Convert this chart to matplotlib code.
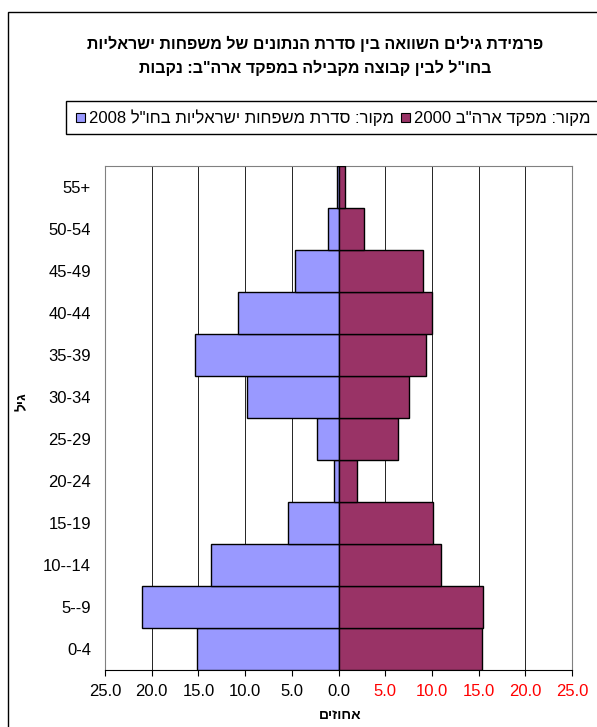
import re
import matplotlib
matplotlib.use('Agg')
import matplotlib.pyplot as plt
from matplotlib.patches import Rectangle

plt.rcParams['font.family'] = ['Liberation Sans', 'DejaVu Sans']

# data (percent)
age_groups = ['0-4', '5--9', '10--14', '15-19', '20-24', '25-29', '30-34',
              '35-39', '40-44', '45-49', '50-54', '55+']
israeli_abroad_2008 = [15.1, 21.0, 13.7, 5.4, 0.5, 2.3, 9.8, 15.4, 10.8, 4.7, 1.1, 0.2]
us_census_2000 = [15.4, 15.5, 11.0, 10.1, 2.0, 6.4, 7.6, 9.4, 10.0, 9.0, 2.7, 0.7]
x_ticks = [-25, -20, -15, -10, -5, 0, 5, 10, 15, 20, 25]

title_1 = 'פרמידת גילים השוואה בין סדרת הנתונים של משפחות ישראליות'
title_2 = 'בחו"ל לבין קבוצה מקבילה במפקד ארה"ב: נקבות'
label_2008 = 'מקור: סדרת משפחות ישראליות בחו"ל 2008'
label_2000 = 'מקור: מפקד ארה"ב 2000'
x_title = 'אחוזים'
y_title = 'גיל'

BLUE = '#9999FF'
MAROON = '#993366'
W, H = 597, 727


def vis(s):
    '''hebrew -> visual order (numbers stay left to right)'''
    parts = re.split(r'(\d+(?:\.\d+)?)', s)
    out = []
    for p in reversed(parts):
        if re.fullmatch(r'\d+(?:\.\d+)?', p):
            out.append(p)
        else:
            out.append(p[::-1])
    return ''.join(out)


def fx(px):
    return px / W


def fy(py):
    return 1 - py / H


fig = plt.figure(figsize=(W / 100, H / 100), dpi=100)
ax = fig.add_axes([fx(105), fy(670), fx(572) - fx(105), fy(166) - fy(670)])

y = list(range(len(age_groups)))
ax.barh(y, [-v for v in israeli_abroad_2008], height=1.0, color=BLUE,
        edgecolor='black', linewidth=1.0, zorder=3)
ax.barh(y, us_census_2000, height=1.0, color=MAROON,
        edgecolor='black', linewidth=1.0, zorder=3)

ax.set_xlim(-25, 25)
ax.set_ylim(-0.5, len(age_groups) - 0.5)
ax.set_xticks(x_ticks)
ax.set_xticklabels(['{:.1f}'.format(abs(v)) for v in x_ticks], fontsize=12)
for v, lab in zip(x_ticks, ax.get_xticklabels()):
    lab.set_color('red' if v > 0 else 'black')
ax.set_yticks(y)
ax.set_yticklabels(age_groups, fontsize=12)
ax.tick_params(axis='y', length=0, pad=10)
ax.tick_params(axis='x', direction='out', length=4, width=0.8, pad=6)

ax.grid(axis='x', color='black', linewidth=0.6, zorder=0)
ax.set_axisbelow(True)
for s in ['top', 'right', 'left']:
    ax.spines[s].set_color('#808080')
    ax.spines[s].set_linewidth(0.8)
ax.spines['bottom'].set_color('black')
ax.spines['bottom'].set_linewidth(0.8)

# titles
fig.text(fx(315), fy(44), vis(title_1), ha='center', va='center',
         fontsize=11.5, fontweight='bold')
fig.text(fx(315), fy(68), vis(title_2), ha='center', va='center',
         fontsize=11.5, fontweight='bold')
fig.text(fx(340), fy(715), vis(x_title), ha='center', va='center',
         fontsize=10, fontweight='bold')
fig.text(fx(22), fy(402), vis(y_title), ha='center', va='center',
         fontsize=10, fontweight='bold', rotation=90)

# outer frame and legend box (cut by the image edge)
fig.add_artist(Rectangle((fx(8), fy(800)), fx(800), fy(12) - fy(800),
                         transform=fig.transFigure, fill=False,
                         edgecolor='black', linewidth=1.0))
fig.add_artist(Rectangle((fx(66), fy(134)), fx(700), fy(101) - fy(134),
                         transform=fig.transFigure, facecolor='white',
                         edgecolor='black', linewidth=1.0))

renderer = fig.canvas.get_renderer()
x_pos = 76
for color, label in [(BLUE, label_2008), (MAROON, label_2000)]:
    fig.add_artist(Rectangle((fx(x_pos), fy(122)), fx(9), fy(113) - fy(122),
                             transform=fig.transFigure, facecolor=color,
                             edgecolor='black', linewidth=0.8))
    t = fig.text(fx(x_pos + 13), fy(118), vis(label), ha='left', va='center',
                 fontsize=12)
    bb = t.get_window_extent(renderer)
    x_pos = bb.x1 + 7

fig.savefig('out.png', dpi=100)
